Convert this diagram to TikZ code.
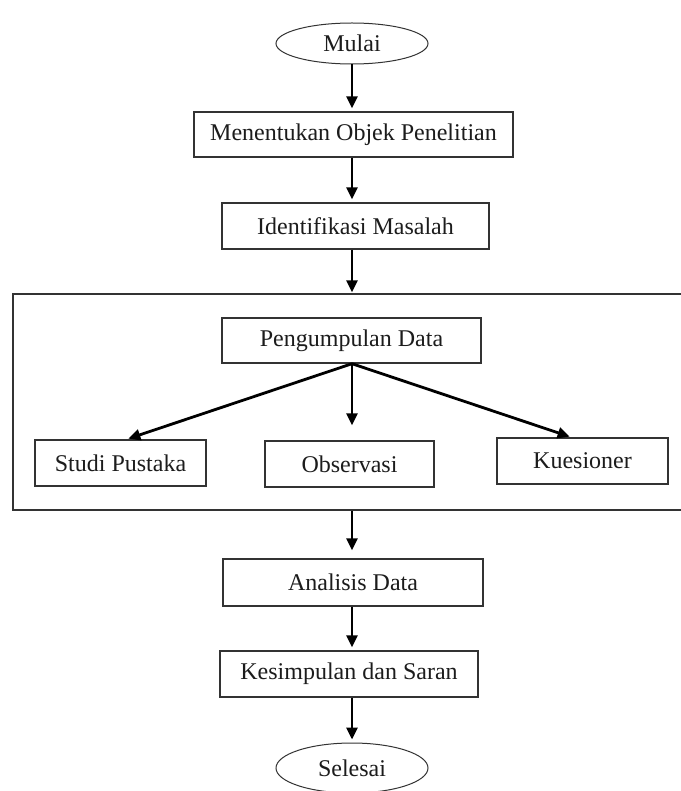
\documentclass[tikz,border=0pt]{standalone}
\usepackage{fontspec}
\setmainfont{Liberation Serif}
\usetikzlibrary{shapes.geometric,arrows.meta}
\definecolor{ink}{HTML}{1C1C1C}
\definecolor{edge}{HTML}{333333}
\tikzset{
  box/.style={draw=edge, line width=1.4pt, rectangle, inner sep=0pt, text=ink,
    font=\fontsize{24}{28}\selectfont},
  oval/.style={draw=edge, line width=1pt, ellipse, inner sep=0pt, text=ink,
    font=\fontsize{24}{28}\selectfont},
  arr/.style={line width=2.8pt, -{Triangle[length=12pt,width=11pt]}, shorten >=3pt}
}
\begin{document}
\begin{tikzpicture}[x=1pt,y=-1pt]
\useasboundingbox (0,0) rectangle (680,791);
\fill[white] (0,0) rectangle (680,791);

\node[oval, minimum width=152pt, minimum height=41pt] (mulai) at (352,43.5) {Mulai};
\node[box, minimum width=319pt, minimum height=45pt] (mo) at (353.5,134.5) {Menentukan Objek Penelitian};
\node[box, minimum width=267pt, minimum height=46pt] (id) at (355.5,226) {Identifikasi Masalah};
\node[box, minimum width=687pt, minimum height=216pt] (grp) at (356.5,402) {};
\node[box, minimum width=259pt, minimum height=45pt] (pd) at (351.5,340.5) {Pengumpulan Data};
\node[box, minimum width=171pt, minimum height=46pt] (sp) at (120.5,463) {Studi Pustaka};
\node[box, minimum width=169pt, minimum height=46pt] (ob) at (349.5,464) {Observasi};
\node[box, minimum width=171pt, minimum height=46pt] (ku) at (582.5,461) {Kuesioner};
\node[box, minimum width=260pt, minimum height=47pt] (an) at (353,582.5) {Analisis Data};
\node[box, minimum width=258pt, minimum height=46pt] (ks) at (349,674) {Kesimpulan dan Saran};
\node[oval, minimum width=152pt, minimum height=50pt] (sel) at (352,768) {Selesai};

\draw[arr] (mulai.south) -- (mulai.south |- mo.north);
\draw[arr] (mulai.south |- mo.south) -- (mulai.south |- id.north);
\draw[arr, shorten >=1pt] (mulai.south |- id.south) -- (mulai.south |- grp.north);
\draw[arr, shorten >=2pt] (mulai.south |- pd.south) -- ([xshift=6pt]sp.north);
\draw[arr, shorten >=15pt] (mulai.south |- pd.south) -- (mulai.south |- ob.north);
\draw[arr, shorten >=2pt] (mulai.south |- pd.south) -- ([xshift=-11pt]ku.north);
\draw[arr, shorten >=8pt] (mulai.south |- grp.south) -- (mulai.south |- an.north);
\draw[arr] (mulai.south |- an.south) -- (mulai.south |- ks.north);
\draw[arr] (mulai.south |- ks.south) -- (mulai.south |- sel.north);
\end{tikzpicture}
\end{document}
